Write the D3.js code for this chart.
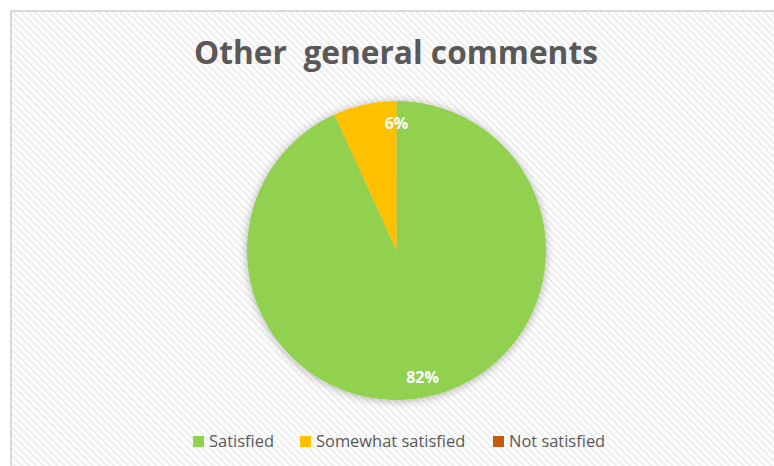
<!DOCTYPE html>
<html><head><meta charset="utf-8">
<script src="https://cdn.jsdelivr.net/npm/d3@7"></script>
<style>html,body{margin:0;padding:0;background:#fff;}svg{display:block;}</style>
</head><body>
<svg id="chart" width="774" height="466"></svg>
<script>
const categories = ["Satisfied", "Somewhat satisfied", "Not satisfied"];
const values = [0.82, 0.06, 0];
const colors = ["#92D050", "#FFC000", "#C55A11"];
const title = "Other  general comments";

const W = 774, H = 466;
const svg = d3.select("#chart");
const defs = svg.append("defs");
const pat = defs.append("pattern").attr("id","stripes").attr("patternUnits","userSpaceOnUse")
  .attr("width",5).attr("height",5).attr("patternTransform","rotate(-45)");
pat.append("rect").attr("width",5).attr("height",5).attr("fill","#ffffff");
pat.append("rect").attr("width",2.5).attr("height",5).attr("fill","#efefef");
const f = defs.append("filter").attr("id","shadow").attr("x","-20%").attr("y","-20%").attr("width","140%").attr("height","140%");
f.append("feDropShadow").attr("dx",0).attr("dy",1).attr("stdDeviation",4).attr("flood-color","#000").attr("flood-opacity",0.3);

svg.append("rect").attr("x",11).attr("y",11).attr("width",W).attr("height",H)
  .attr("fill","url(#stripes)").attr("stroke","#d9d9d9").attr("stroke-width",2);

const font = "'Open Sans', 'DejaVu Sans', sans-serif";
const t = svg.append("text").attr("x",396).attr("y",64).attr("text-anchor","middle")
  .attr("font-family",font).attr("font-weight","bold").attr("font-size",28)
  .attr("fill","#595959").attr("xml:space","preserve").style("white-space","pre").text(title);
const tl = t.node().getComputedTextLength();
t.attr("font-size", 28*404/tl);

const cx = 396.5, cy = 250.5, R = 149.5;
const pie = d3.pie().sort(null).value(d=>d.v);
const arcs = pie(categories.map((c,i)=>({c, v: values[i], col: colors[i]})));
const arc = d3.arc().innerRadius(0).outerRadius(R);
const g = svg.append("g").attr("transform",`translate(${cx},${cy})`);
g.append("g").attr("filter","url(#shadow)").selectAll("path").data(arcs).join("path")
  .attr("d",arc).attr("fill",d=>d.data.col);
g.selectAll("text.lbl").data(arcs.filter(d=>d.data.v>0)).join("text")
  .attr("class","lbl")
  .attr("x",(d,i)=> i===0 ? 26 : 0)
  .attr("y",(d,i)=> i===0 ? 132 : -122)
  .attr("text-anchor","middle")
  .attr("font-family",font).attr("font-weight","bold").attr("font-size",16)
  .attr("fill","#fff").text(d=>d3.format(".0%")(d.data.v));

// legend
const legX = [193, 300, 493];
const lg = svg.append("g");
let fs = 15;
categories.forEach((c,i)=>{
  lg.append("rect").attr("x",legX[i]).attr("y",436).attr("width",11).attr("height",11).attr("fill",colors[i]);
  const tx = lg.append("text").attr("x",legX[i]+16).attr("y",447).attr("font-family",font).attr("font-size",fs)
    .attr("fill","#595959").text(c);
  if (i===0) { fs = fs*65/tx.node().getComputedTextLength(); tx.attr("font-size", fs); }
});
</script>
</body></html>
